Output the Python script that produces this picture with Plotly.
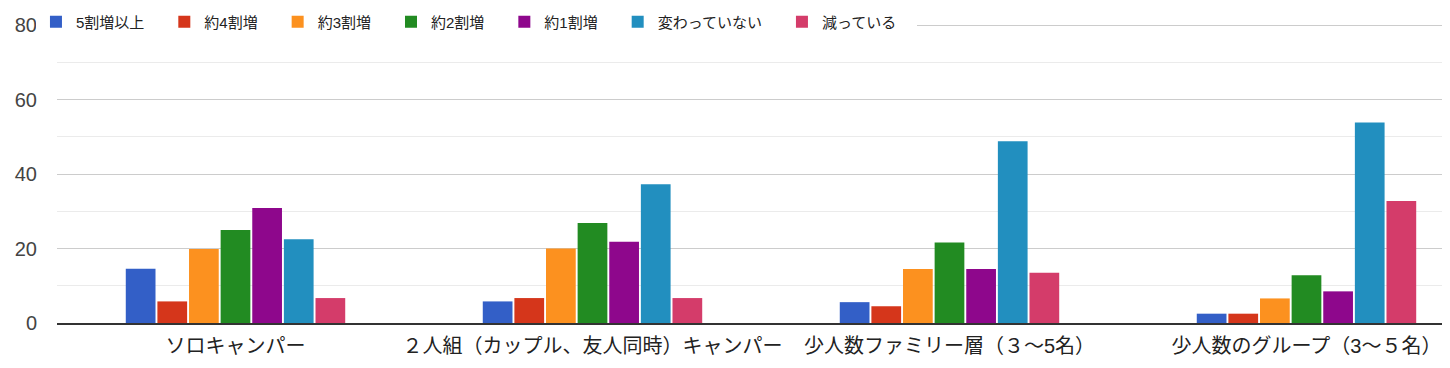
import plotly.graph_objects as go

categories = [
    "ソロキャンパー",
    "２人組（カップル、友人同時）キャンパー",
    "少人数ファミリー層（３～5名）",
    "少人数のグループ（3～５名）",
]
series_names = ["5割増以上", "約4割増", "約3割増", "約2割増", "約1割増", "変わっていない", "減っている"]
v_5plus = [14.6, 5.8, 5.6, 2.5]
v_4 = [5.8, 6.7, 4.5, 2.5]
v_3 = [19.9, 20.0, 14.5, 6.6]
v_2 = [25.0, 26.9, 21.6, 12.8]
v_1 = [30.9, 21.8, 14.5, 8.5]
v_same = [22.5, 37.3, 48.8, 53.9]
v_down = [6.7, 6.7, 13.5, 32.8]
series_values = [v_5plus, v_4, v_3, v_2, v_1, v_same, v_down]
colors = ["#335fc7", "#d5361b", "#fc911f", "#228b22", "#8e078c", "#228fbf", "#d43c6a"]
y_ticks = [0, 20, 40, 60, 80]

FONT = "Liberation Sans, Arial, Noto Sans CJK JP, sans-serif"

fig = go.Figure()
for name, vals, col in zip(series_names, series_values, colors):
    fig.add_trace(go.Bar(x=categories, y=vals, name=name + "\u3000",
                         marker=dict(color=col, line=dict(width=0))))

fig.update_layout(
    width=1442, height=360,
    margin=dict(l=49, r=0, t=15, b=45, autoexpand=False),
    paper_bgcolor="white", plot_bgcolor="white",
    barmode="group", bargap=0.38, bargroupgap=0.06,
    font=dict(family=FONT, color="#222"),
    showlegend=True,
    legend=dict(
        orientation="h", x=-0.0151, xanchor="left", y=1.003, yanchor="middle",
        bgcolor="white", font=dict(size=15, color="#222", family=FONT),
        itemwidth=30, traceorder="normal",
    ),
    xaxis=dict(
        type="category", range=[-0.5, 3.402], showgrid=False, zeroline=False,
        showline=True, linecolor="#333", linewidth=2, automargin=False,
        tickfont=dict(size=20, color="#222", family=FONT), ticks="", ticklabelstandoff=4,
    ),
    yaxis=dict(
        range=[0, 80.6], tickvals=y_ticks, showgrid=True, gridcolor="#cccccc", gridwidth=1,
        minor=dict(dtick=10, showgrid=True, gridcolor="#ebebeb", gridwidth=1),
        zeroline=False, showline=False, ticks="", automargin=False,
        tickfont=dict(size=20, color="#444", family=FONT), ticklabelstandoff=19,
    ),
)

fig.write_html("out.html")
